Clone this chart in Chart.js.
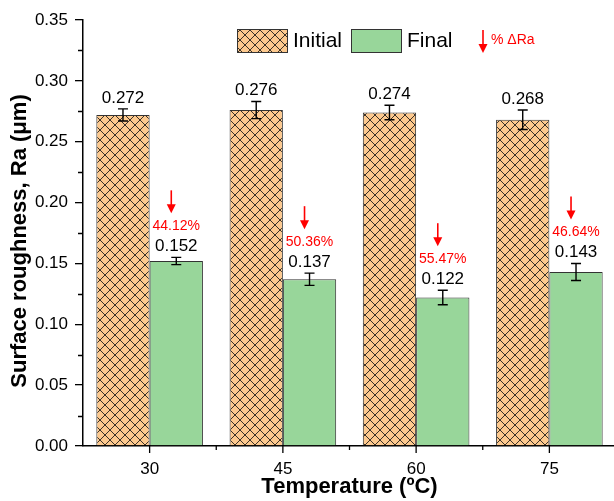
<!DOCTYPE html>
<html>
<head>
<meta charset="utf-8">
<script src="https://cdn.jsdelivr.net/npm/chart.js@4/dist/chart.umd.min.js"></script>
<style>
  html, body { margin: 0; padding: 0; background: #fff; overflow: hidden; }
  #wrap { width: 616px; height: 501px; }
</style>
</head>
<body>
<div id="wrap"><canvas id="chart" width="616" height="501"></canvas></div>
<script>
// ─── Data ────────────────────────────────────────────────────────────────────
const categories = ["30", "45", "60", "75"];
const initialRa = [0.272, 0.276, 0.274, 0.268];
const initialErr = [0.005, 0.007, 0.006, 0.008];
const finalRa = [0.152, 0.137, 0.122, 0.143];
const finalErr = [0.003, 0.005, 0.006, 0.007];
const reductionLabels = ["44.12%", "50.36%", "55.47%", "46.64%"];
const yMin = 0, yMax = 0.35, yStep = 0.05;

const FONT = '"Liberation Sans", Arial, sans-serif';
const ORANGE = "#FDC98E";
const GREEN = "#98D69A";
const RED = "#FF0000";

// ─── Cross-hatch pattern for "Initial" ───────────────────────────────────────
function makeHatch() {
  const s = 10;
  const c = document.createElement("canvas");
  c.width = s; c.height = s;
  const g = c.getContext("2d");
  g.fillStyle = ORANGE;
  g.fillRect(0, 0, s, s);
  g.strokeStyle = "#3b3127";
  g.lineWidth = 1;
  g.beginPath();
  g.moveTo(0, 0); g.lineTo(s, s);
  g.moveTo(s, 0); g.lineTo(0, s);
  g.stroke();
  return document.getElementById("chart").getContext("2d").createPattern(c, "repeat");
}
const hatch = makeHatch();

function drawArrow(ctx, x, yTop, yBot) {
  ctx.save();
  ctx.strokeStyle = RED;
  ctx.fillStyle = RED;
  ctx.lineWidth = 1.6;
  ctx.beginPath();
  ctx.moveTo(x, yTop);
  ctx.lineTo(x, yBot - 8);
  ctx.stroke();
  ctx.beginPath();
  ctx.moveTo(x - 4.5, yBot - 9);
  ctx.lineTo(x + 4.5, yBot - 9);
  ctx.lineTo(x, yBot);
  ctx.closePath();
  ctx.fill();
  ctx.restore();
}

// ─── Error bars, value labels, arrows, ticks, legend ─────────────────────────
const annotations = {
  id: "annotations",
  afterDatasetsDraw(chart) {
    const ctx = chart.ctx;
    const y = chart.scales.y;
    const series = [
      { vals: initialRa, errs: initialErr },
      { vals: finalRa, errs: finalErr },
    ];
    series.forEach((s, di) => {
      const meta = chart.getDatasetMeta(di);
      meta.data.forEach((bar, i) => {
        const x = bar.x;
        const yTop = y.getPixelForValue(s.vals[i] + s.errs[i]);
        const yBot = y.getPixelForValue(s.vals[i] - s.errs[i]);
        ctx.save();
        ctx.strokeStyle = "#000";
        ctx.lineWidth = 1.4;
        ctx.beginPath();
        ctx.moveTo(x, yTop); ctx.lineTo(x, yBot);
        ctx.moveTo(x - 5, yTop); ctx.lineTo(x + 5, yTop);
        ctx.moveTo(x - 5, yBot); ctx.lineTo(x + 5, yBot);
        ctx.stroke();

        ctx.fillStyle = "#000";
        ctx.font = "17px " + FONT;
        ctx.textAlign = "center";
        ctx.textBaseline = "middle";
        ctx.fillText(s.vals[i].toFixed(3), x, yTop - 11);

        if (di === 1) {
          ctx.fillStyle = RED;
          ctx.font = "14px " + FONT;
          ctx.fillText(reductionLabels[i], x, yTop - 31);
          drawArrow(ctx, x - 5, yTop - 67, yTop - 44);
        }
        ctx.restore();
      });
    });
  },
  afterDraw(chart) {
    const ctx = chart.ctx;
    const x = chart.scales.x;
    const y = chart.scales.y;
    ctx.save();
    ctx.strokeStyle = "#000";
    ctx.lineWidth = 1.3;
    // minor y ticks
    ctx.beginPath();
    for (let v = yMin + yStep / 2; v < yMax; v += yStep) {
      const py = Math.round(y.getPixelForValue(v)) + 0.5;
      ctx.moveTo(x.left - 5, py);
      ctx.lineTo(x.left, py);
    }
    // x ticks: long at categories, short at boundaries
    const half = (x.right - x.left) / categories.length / 2;
    categories.forEach((c, i) => {
      const px = x.getPixelForValue(i);
      ctx.moveTo(px, y.bottom); ctx.lineTo(px, y.bottom + 7);
      ctx.moveTo(px + half, y.bottom); ctx.lineTo(px + half, y.bottom + 4);
    });
    ctx.stroke();

    // y axis title
    ctx.save();
    ctx.translate(20, 241);
    ctx.rotate(-Math.PI / 2);
    ctx.fillStyle = "#000";
    ctx.font = "bold 22px " + FONT;
    ctx.textAlign = "center";
    ctx.textBaseline = "middle";
    ctx.fillText("Surface roughness, Ra (\u03BCm)", 0, 0);
    ctx.restore();

    // legend
    ctx.lineWidth = 1;
    ctx.strokeStyle = "#333";
    ctx.fillStyle = hatch;
    ctx.fillRect(237, 29, 50, 23);
    ctx.strokeRect(237.5, 29.5, 50, 23);
    ctx.fillStyle = GREEN;
    ctx.fillRect(351, 29, 50, 23);
    ctx.strokeRect(351.5, 29.5, 50, 23);
    ctx.fillStyle = "#000";
    ctx.font = "21px " + FONT;
    ctx.textAlign = "left";
    ctx.textBaseline = "middle";
    ctx.fillText("Initial", 293, 41);
    ctx.fillText("Final", 407, 41);
    drawArrow(ctx, 483, 30, 53);
    ctx.fillStyle = RED;
    ctx.font = "14px " + FONT;
    ctx.fillText("% \u0394Ra", 491, 40);
    ctx.restore();
  },
};

// ─── Chart ───────────────────────────────────────────────────────────────────
new Chart(document.getElementById("chart"), {
  type: "bar",
  data: {
    labels: categories,
    datasets: [
      {
        label: "Initial",
        data: initialRa,
        backgroundColor: hatch,
        borderColor: "#333",
        borderWidth: 1,
        categoryPercentage: 0.8,
        barPercentage: 1.0,
      },
      {
        label: "Final",
        data: finalRa,
        backgroundColor: GREEN,
        borderColor: "#333",
        borderWidth: 1,
        categoryPercentage: 0.8,
        barPercentage: 1.0,
      },
    ],
  },
  options: {
    responsive: false,
    animation: false,
    devicePixelRatio: 1,
    layout: { padding: { top: 20, right: 0, bottom: 0, left: 0 } },
    plugins: { legend: { display: false }, tooltip: { enabled: false } },
    scales: {
      x: {
        grid: { display: false, drawTicks: false },
        border: { display: true, color: "#000", width: 1.5 },
        ticks: { color: "#000", font: { family: FONT, size: 17 }, padding: 13 },
        title: {
          display: true,
          text: "Temperature (\u00BAC)",
          color: "#000",
          font: { family: FONT, size: 22, weight: "bold" },
          padding: { top: 0, bottom: 1 },
        },
        afterFit: (s) => { s.height = 55; },
      },
      y: {
        min: yMin,
        max: yMax,
        grid: { drawOnChartArea: false, drawTicks: true, tickLength: 8, color: "#000", lineWidth: 1.3 },
        border: { display: true, color: "#000", width: 1.5 },
        ticks: {
          stepSize: yStep,
          color: "#000",
          font: { family: FONT, size: 17 },
          padding: 7,
          callback: (v) => v.toFixed(2),
        },
        afterFit: (s) => { s.width = 83; },
      },
    },
  },
  plugins: [annotations],
});
</script>
</body>
</html>
